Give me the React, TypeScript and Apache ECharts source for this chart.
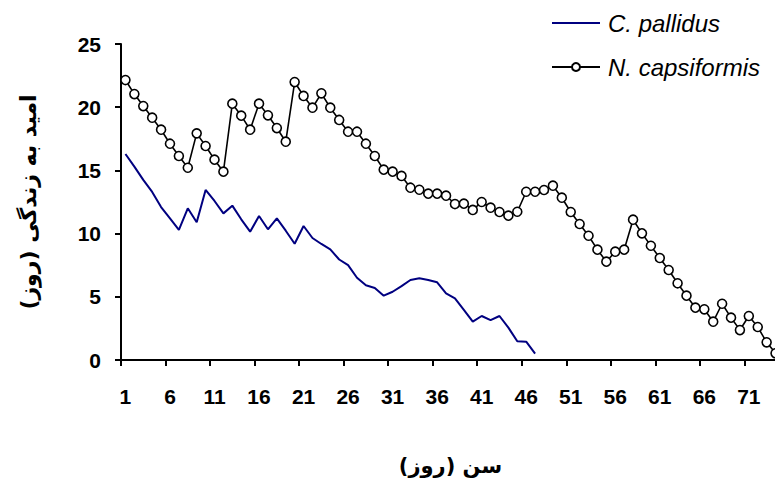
import React, { useEffect, useRef } from "react";
import * as echarts from "echarts";

const categories: string[] = Array.from({ length: 74 }, (_, i) => String(i + 1));

const pallidus: number[] = [
  16.3, 15.3, 14.25, 13.3, 12.1, 11.2, 10.3, 12.0, 10.9, 13.45,
  12.58, 11.6, 12.21, 11.13, 10.15, 11.39, 10.34, 11.21, 10.23, 9.2,
  10.6, 9.65, 9.18, 8.75, 7.95, 7.5, 6.51, 5.91, 5.7, 5.09,
  5.4, 5.85, 6.33, 6.46, 6.33, 6.15, 5.28, 4.88, 3.96, 3.03,
  3.48, 3.16, 3.48, 2.56, 1.48, 1.45, 0.5,
];

const capsiformis: number[] = [
  22.15, 21.04, 20.09, 19.17, 18.22, 17.11, 16.14, 15.21, 17.93, 16.93,
  15.85, 14.9, 20.28, 19.33, 18.22, 20.28, 19.36, 18.35, 17.27, 21.99,
  20.89, 19.96, 21.1, 19.96, 18.99, 18.06, 18.06, 17.11, 16.14, 15.06,
  14.9, 14.56, 13.63, 13.47, 13.16, 13.16, 13.0, 12.34, 12.37, 11.87,
  12.5, 12.05, 11.71, 11.42, 11.73, 13.31, 13.31, 13.45, 13.79, 12.84,
  11.71, 10.76, 9.83, 8.73, 7.78, 8.57, 8.73, 11.1, 10.02, 9.04,
  8.07, 7.12, 6.07, 5.09, 4.14, 4.01, 3.03, 4.45, 3.35, 2.37,
  3.48, 2.61, 1.4, 0.53,
];

const seriesNames: string[] = ["C. pallidus", "N. capsiformis"];
const yTitle = "امید به زندگی (روز)";
const xTitle = "سن (روز)";

export default function App() {
  const ref = useRef<HTMLDivElement>(null);
  useEffect(() => {
    if (!ref.current) return;
    const chart = echarts.init(ref.current, null, { renderer: "svg" });
    const axisFont = {
      color: "#000",
      fontSize: 21,
      fontWeight: "bold" as const,
      fontFamily: "Liberation Sans, Arial, sans-serif",
    };
    chart.setOption({
      animation: false,
      backgroundColor: "#fff",
      grid: {
        left: 121,
        right: 0,
        top: 44,
        bottom: 121,
        containLabel: false,
        outerBoundsMode: "none",
      },
      legend: {
        orient: "vertical",
        left: 551,
        top: 11,
        padding: 0,
        itemWidth: 48,
        itemHeight: 10,
        itemGap: 20,
        data: [
          { name: seriesNames[0], icon: "path://M0,0h48v2h-48z" },
          { name: seriesNames[1] },
        ],
        textStyle: {
          color: "#000",
          fontSize: 24,
          fontStyle: "italic",
          fontFamily: "Liberation Sans, Arial, sans-serif",
          padding: [0, 0, 0, 3],
        },
      },
      xAxis: {
        type: "category",
        data: categories,
        boundaryGap: true,
        name: xTitle,
        nameLocation: "middle",
        nameGap: 95,
        nameTextStyle: {
          color: "#000",
          fontSize: 21,
          fontWeight: "bold",
          fontFamily: "DejaVu Sans, sans-serif",
        },
        axisLine: { show: true, lineStyle: { color: "#000", width: 2 } },
        axisTick: { show: true, interval: 4, length: 6, lineStyle: { color: "#000", width: 2 } },
        axisLabel: { ...axisFont, interval: 4, margin: 26 },
        splitLine: { show: false },
      },
      yAxis: {
        type: "value",
        min: 0,
        max: 25,
        interval: 5,
        name: yTitle,
        nameLocation: "middle",
        nameGap: 82,
        nameRotate: 90,
        nameTextStyle: {
          color: "#000",
          fontSize: 22,
          fontWeight: "bold",
          fontFamily: "DejaVu Sans, sans-serif",
        },
        axisLine: { show: true, lineStyle: { color: "#000", width: 2 } },
        axisTick: { show: true, length: 6, lineStyle: { color: "#000", width: 2 } },
        axisLabel: { ...axisFont, margin: 20 },
        splitLine: { show: false },
      },
      series: [
        {
          name: seriesNames[0],
          type: "line",
          data: pallidus,
          symbol: "none",
          color: "#000080",
          lineStyle: { color: "#000080", width: 2 },
          z: 2,
        },
        {
          name: seriesNames[1],
          type: "line",
          data: capsiformis,
          symbol: "circle",
          symbolSize: 9,
          showAllSymbol: true,
          color: "#000",
          itemStyle: { color: "#fff", borderColor: "#000", borderWidth: 1.6 },
          lineStyle: { color: "#000", width: 1.6 },
          z: 3,
        },
      ],
    });
    return () => chart.dispose();
  }, []);
  return (
    <div
      style={{
        position: "absolute",
        left: 0,
        top: 0,
        width: 775,
        height: 481,
        overflow: "hidden",
        background: "#fff",
      }}
    >
      <div ref={ref} style={{ width: 780, height: 481 }} />
    </div>
  );
}
